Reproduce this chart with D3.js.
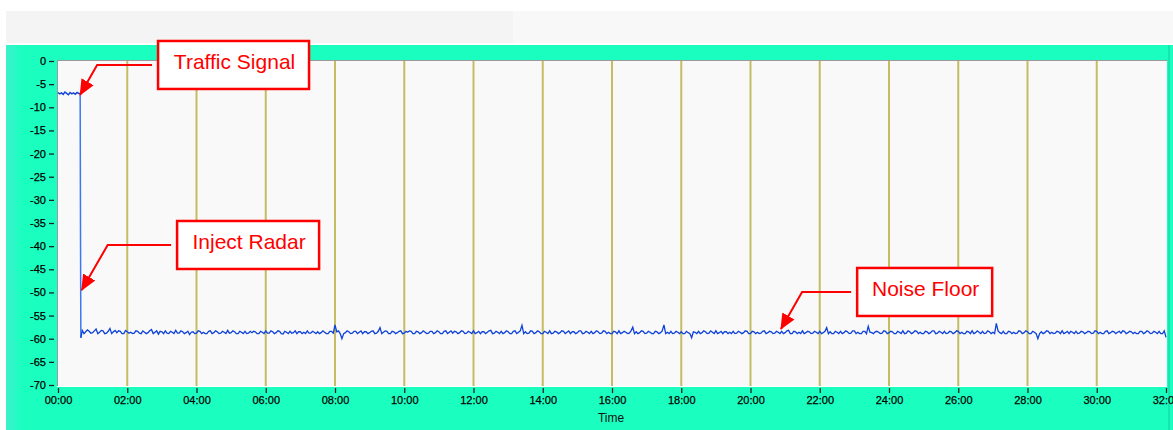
<!DOCTYPE html>
<html><head><meta charset="utf-8">
<script src="https://cdn.jsdelivr.net/npm/d3@7"></script>
<style>html,body{margin:0;padding:0;background:#fff;overflow:hidden}</style>
</head><body><svg id="c" width="1173" height="430"></svg>
<script>
// ---------- data ----------
const xTicks = [0,2,4,6,8,10,12,14,16,18,20,22,24,26,28,30,32];
const xTickLabels = ["00:00","02:00","04:00","06:00","08:00","10:00","12:00","14:00","16:00","18:00","20:00","22:00","24:00","26:00","28:00","30:00","32:00"];
const yTicks = [0,-5,-10,-15,-20,-25,-30,-35,-40,-45,-50,-55,-60,-65,-70];
const xAxisTitle = "Time";

// traffic signal segment (minutes from 0, step 0.05)
const trafficStart = 0, trafficStep = 0.05;
const trafficValues = [-6.8,-7.1,-6.9,-7.2,-6.7,-7.0,-7.3,-6.8,-7.1,-6.9,-7.2,-6.8,-7.0];
// radar injection drop
const dropTimes = [0.64, 0.65, 0.66];
const dropValues = [-7.0, -37.0, -59.8];
// noise floor, samples A (minutes from 0.7, step 0.1)
const noiseStart = 0.7, noiseStep = 0.1;
const noiseValues = [
-58.2,-58.5,-58.4,-58.7,-57.9,-58.6,-58.3,-58.8,-57.8,-58.5,
-58.7,-58.4,-58.9,-58.5,-58.6,-58.8,-58.4,-58.9,-58.6,-58.7,
-58.0,-58.6,-59.0,-58.5,-58.3,-58.9,-58.6,-58.2,-58.8,-58.5,
-58.7,-59.1,-58.5,-58.8,-58.4,-58.6,-58.9,-58.3,-58.7,-58.5,
-58.8,-58.6,-58.2,-58.7,-58.5,-58.9,-58.6,-58.4,-58.8,-58.7,
-58.5,-58.9,-58.6,-58.3,-58.8,-58.5,-58.7,-58.4,-59.0,-58.6,
-58.4,-58.7,-58.9,-58.5,-58.6,-58.3,-58.8,-58.6,-58.5,-58.7,
-58.6,-58.9,-58.4,-57.0,-58.3,-60.0,-58.7,-58.5,-58.8,-58.4,
-58.6,-58.9,-58.5,-58.7,-58.3,-58.8,-57.6,-58.6,-58.4,-58.9,
-58.5,-58.7,-58.3,-58.8,-58.6,-58.4,-58.9,-58.5,-58.7,-58.6,
-58.8,-58.4,-58.7,-58.5,-58.9,-58.3,-58.6,-58.8,-58.5,-58.7,
-58.4,-58.8,-58.6,-58.3,-58.7,-58.9,-58.5,-58.6,-58.2,-58.8,
-58.6,-58.4,-58.7,-58.5,-58.9,-58.3,-58.6,-57.1,-58.5,-58.8,
-58.4,-58.7,-58.5,-58.9,-58.6,-58.3,-58.8,-58.5,-58.7,-58.4,
-58.6,-58.9,-58.5,-58.7,-58.3,-58.8,-58.6,-58.4,-58.7,-58.5,
-58.8,-58.4,-58.6,-58.9,-58.5,-58.3,-58.7,-58.6,-58.8,-57.5,
-58.5,-58.7,-58.4,-58.8,-58.6,-58.9,-58.5,-58.7,-57.0,-58.6,
-58.4,-58.8,-58.6,-58.5,-58.9,-58.7,-59.8,-58.6,-58.4,-58.7,
-58.5,-58.8,-58.6,-58.3,-58.7,-58.9,-58.5,-58.6,-58.4,-58.8,
-58.6,-58.7,-58.4,-58.9,-58.5,-58.6,-58.8,-58.3,-58.7,-58.5,
-58.8,-58.6,-58.4,-58.7,-58.2,-58.9,-58.5,-58.6,-58.3,-58.7,
-58.5,-58.8,-58.6,-58.4,-58.7,-57.6,-58.5,-58.9,-58.6,-58.4,
-58.7,-58.5,-58.8,-58.3,-58.6,-58.9,-58.4,-57.3,-58.7,-58.5,
-58.6,-58.8,-58.4,-58.7,-58.5,-58.9,-58.6,-58.3,-58.8,-58.5,
-58.7,-58.4,-58.6,-58.9,-58.5,-58.7,-58.3,-58.8,-58.6,-58.4,
-58.8,-58.5,-58.7,-58.4,-58.6,-58.9,-58.5,-58.3,-58.7,-58.6,
-58.4,-58.8,-58.5,-58.6,-56.7,-58.7,-58.4,-58.9,-58.5,-58.6,
-58.8,-58.4,-58.7,-58.5,-58.9,-58.6,-60.0,-58.5,-58.7,-58.4,
-58.6,-58.8,-58.5,-58.3,-58.7,-58.9,-58.6,-58.4,-58.8,-58.5,
-58.7,-58.5,-58.8,-58.4,-58.6,-58.9,-58.3,-58.7,-58.5,-58.6,
-58.8,-58.4,-58.7,-58.5,-58.6,-58.9,-58.4,-58.7,-58.5,-58.8,
-58.6,-58.4,-58.9,-59.7];
// noise floor, samples B (minutes from 0.75, step 0.1)
const noiseStartB = 0.75;
const noiseValuesB = [
-58.9,-58.1,-58.8,-58.3,-58.9,-58.2,-58.9,-58.4,-58.9,-58.2,
-58.3,-58.9,-58.2,-58.8,-58.9,-58.3,-58.8,-58.3,-58.9,-58.3,
-58.9,-58.3,-58.4,-58.9,-58.8,-58.4,-58.9,-58.8,-58.3,-58.9,
-58.4,-58.6,-58.9,-58.3,-58.9,-58.9,-58.4,-58.9,-58.3,-58.9,
-58.4,-58.9,-58.8,-58.3,-58.9,-58.4,-58.9,-58.9,-58.4,-58.4,
-58.9,-58.4,-58.9,-58.8,-58.3,-58.9,-58.3,-58.9,-58.4,-58.9,
-58.8,-58.3,-58.5,-58.9,-58.9,-58.8,-58.4,-58.9,-58.9,-58.3,
-58.9,-58.4,-58.8,-58.5,-58.9,-58.9,-58.3,-58.9,-58.4,-58.9,
-58.3,-58.5,-58.9,-58.4,-58.9,-58.4,-58.9,-58.3,-58.9,-58.4,
-58.9,-58.4,-58.9,-58.4,-58.3,-58.9,-58.4,-58.9,-58.3,-58.9,
-58.4,-58.9,-58.3,-58.9,-58.4,-58.9,-58.3,-58.4,-58.9,-58.3,
-58.9,-58.4,-58.9,-58.9,-58.4,-58.5,-58.9,-58.3,-58.9,-58.4,
-58.9,-58.9,-58.3,-58.9,-58.4,-58.9,-58.3,-58.9,-58.9,-58.3,
-58.9,-58.3,-58.9,-58.4,-58.9,-58.9,-58.4,-58.9,-58.3,-58.9,
-58.3,-58.5,-58.9,-58.3,-58.9,-58.4,-58.9,-58.9,-58.3,-58.9,
-58.3,-58.9,-58.9,-58.4,-58.9,-58.9,-58.4,-58.9,-58.3,-58.9,
-58.9,-58.3,-58.9,-58.4,-58.9,-58.4,-58.9,-58.3,-58.9,-58.9,
-58.9,-58.4,-58.9,-58.9,-58.4,-58.9,-58.5,-58.9,-58.9,-58.3,
-58.9,-58.3,-58.9,-58.9,-58.4,-58.5,-58.9,-58.9,-58.9,-58.4,
-58.9,-58.3,-58.9,-58.4,-58.9,-58.9,-58.4,-58.9,-58.4,-58.9,
-58.4,-58.9,-58.9,-58.3,-58.9,-58.4,-58.9,-58.9,-58.9,-58.4,
-58.9,-58.4,-58.9,-58.9,-58.4,-58.9,-58.9,-58.4,-58.9,-58.9,
-58.3,-58.9,-58.3,-58.9,-58.9,-58.4,-58.9,-58.6,-58.9,-58.4,
-58.9,-58.3,-58.9,-58.4,-58.9,-58.4,-58.9,-58.9,-58.3,-58.9,
-58.3,-58.9,-58.9,-58.4,-58.9,-58.3,-58.9,-58.4,-58.9,-58.9,
-58.4,-58.9,-58.3,-58.9,-58.9,-58.4,-58.9,-58.9,-58.3,-58.9,
-58.9,-58.3,-58.9,-58.9,-58.3,-58.9,-58.9,-58.4,-58.9,-58.9,
-58.3,-58.9,-58.3,-58.9,-58.4,-58.9,-58.9,-58.9,-58.3,-58.9,
-58.9,-58.4,-58.9,-58.9,-58.4,-58.4,-58.9,-58.9,-58.4,-58.9,
-58.4,-58.9,-58.3,-58.9,-58.9,-58.4,-58.9,-58.4,-58.9,-58.4,
-58.3,-58.9,-58.4,-58.9,-58.9,-58.4,-58.9,-58.3,-58.9,-58.4,
-58.9,-58.9,-58.3];

// annotations (positions in data units: minutes, dB)
const annoLabels = ["Traffic Signal","Inject Radar","Noise Floor"];
const annoBoxX = [5.07, 5.49, 25.03];
const annoBoxY = [-0.86, -39.75, -49.9];
const annoElbowX = [1.13, 1.435, 21.49];
const annoTipX = [0.64, 0.685, 20.88];
const annoTipY = [-7.3, -49.5, -57.9];

// ---------- layout ----------
const svg = d3.select("#c");
const plot = {left:57, right:1167, top:60, bottom:386};
const x = d3.scaleLinear().domain([0,32]).range([58,1166]);
const y = d3.scaleLinear().domain([0,-70]).range([61,385]);

const defs = svg.append("defs");
const lg = defs.append("linearGradient").attr("id","gl").attr("x1","0").attr("x2","1").attr("y1","0").attr("y2","0");
lg.append("stop").attr("offset","0").attr("stop-color","#3ef0cc");
lg.append("stop").attr("offset","1").attr("stop-color","#1affc0");
defs.append("marker").attr("id","ah").attr("markerUnits","userSpaceOnUse")
  .attr("viewBox","0 -8 16 16").attr("markerWidth",16).attr("markerHeight",16)
  .attr("refX",15).attr("refY",0).attr("orient","auto")
  .append("path").attr("d","M0,-7L16,0L0,7Z").attr("fill","#ff0000");

// top gray band
svg.append("rect").attr("x",6).attr("y",11).attr("width",1167).attr("height",32).attr("fill","#f8f8f8");
svg.append("rect").attr("x",6).attr("y",11).attr("width",507).attr("height",32).attr("fill","#f4f4f4");
// green panel
svg.append("rect").attr("x",6).attr("y",45).attr("width",1167).attr("height",385).attr("fill","#1affc0");
svg.append("rect").attr("x",6).attr("y",45).attr("width",16).attr("height",385).attr("fill","url(#gl)");
svg.append("rect").attr("x",1168).attr("y",45).attr("width",2).attr("height",385).attr("fill","#14e8b0");

// plot area
svg.append("rect").attr("x",plot.left).attr("y",plot.top).attr("width",plot.right-plot.left).attr("height",plot.bottom-plot.top).attr("fill","#f9f9f9");
svg.append("line").attr("x1",plot.left).attr("x2",plot.right).attr("y1",plot.top+0.5).attr("y2",plot.top+0.5).attr("stroke","#9a9a9a");
svg.append("line").attr("x1",plot.left+0.5).attr("x2",plot.left+0.5).attr("y1",plot.top).attr("y2",plot.bottom).attr("stroke","#9a9a9a");
svg.append("line").attr("x1",plot.left).attr("x2",plot.right).attr("y1",plot.bottom+0.5).attr("y2",plot.bottom+0.5).attr("stroke","#ffffff");

// grid
svg.append("g").selectAll("line").data(xTicks.filter(d=>d>0&&d<32)).join("line")
  .attr("x1",d=>x(d)).attr("x2",d=>x(d)).attr("y1",plot.top+1).attr("y2",plot.bottom)
  .attr("stroke","#c4bd64").attr("stroke-width",2);

// axes
const fontFam = "'Liberation Sans', Arial, sans-serif";
const yAxis = svg.append("g").attr("transform","translate(55,0)")
  .call(d3.axisLeft(y).tickValues(yTicks).tickSize(6).tickPadding(3).tickFormat(d=>String(d)));
const xAxis = svg.append("g").attr("transform",`translate(0,${plot.bottom+2})`)
  .call(d3.axisBottom(x).tickValues(xTicks).tickSize(5).tickPadding(3).tickFormat((d,i)=>xTickLabels[i]));
[yAxis,xAxis].forEach(a=>{
  a.select(".domain").remove();
  a.selectAll(".tick line").attr("stroke","#222").attr("stroke-width",1.3);
  a.selectAll(".tick text").attr("fill","#000").attr("stroke","#000").attr("stroke-width",0.25)
    .style("font-family",fontFam).style("font-size","11px");
});
yAxis.selectAll(".tick line").attr("x1",-1);
svg.append("text").attr("x",611).attr("y",422).attr("text-anchor","middle")
  .style("font-family",fontFam).style("font-size","12px").attr("fill","#111").text(xAxisTitle);

// series
const line = d3.line().x(d=>x(d[0])).y(d=>y(d[1]));
const trafficPts = trafficValues.map((v,i)=>[trafficStart+i*trafficStep, v]);
trafficPts.push([dropTimes[0], dropValues[0]]);
const dropPts = dropTimes.map((t,i)=>[t, dropValues[i]]);
const noiseA = noiseValues.map((v,i)=>[noiseStart+i*noiseStep, v]);
const noiseB = noiseValuesB.map((v,i)=>[noiseStartB+i*noiseStep, v]);
const noisePts = [[dropTimes[2], dropValues[2]]].concat(noiseA, noiseB).sort((a,b)=>a[0]-b[0]);

svg.append("path").attr("d",line(dropPts)).attr("fill","none").attr("stroke","#3a78f2").attr("stroke-width",1.5);
svg.append("path").attr("d",line(trafficPts)).attr("fill","none").attr("stroke","#1546d6").attr("stroke-width",1.5);
svg.append("path").attr("d",line(noisePts)).attr("fill","none").attr("stroke","#0f42d8").attr("stroke-width",1.3);

// annotations
const boxW = [151,142,135], boxH = 48;
annoLabels.forEach((lab,i)=>{
  const cx = x(annoBoxX[i]), cy = y(annoBoxY[i]);
  const g = svg.append("g");
  g.append("path")
    .attr("d",`M${cx-boxW[i]/2-6},${cy}L${x(annoElbowX[i])},${cy}L${x(annoTipX[i])},${y(annoTipY[i])}`)
    .attr("fill","none").attr("stroke","#ff0000").attr("stroke-width",2).attr("marker-end","url(#ah)");
  g.append("rect").attr("x",cx-boxW[i]/2).attr("y",cy-boxH/2).attr("width",boxW[i]).attr("height",boxH)
    .attr("fill","#ffffff").attr("stroke","#ff0000").attr("stroke-width",2.5);
  g.append("text").attr("x",cx+1).attr("y",cy+4.5).attr("text-anchor","middle")
    .style("font-family","'Liberation Sans', Arial, sans-serif").style("font-size","21px")
    .attr("fill","#ff0000").text(lab);
});
</script></body></html>
